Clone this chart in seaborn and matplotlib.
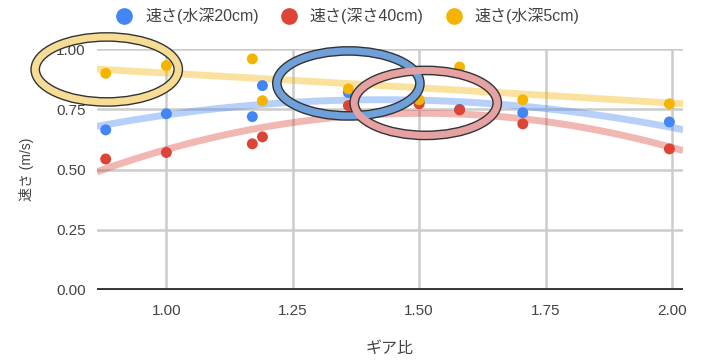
import numpy as np
import pandas as pd
import matplotlib
matplotlib.use("Agg")
import matplotlib.pyplot as plt
from matplotlib.patches import Ellipse
from matplotlib.lines import Line2D
import seaborn as sns

# ---- data ----
gear_ratio = [0.88, 1.00, 1.17, 1.19, 1.36, 1.50, 1.58, 1.705, 1.995]
speed_20cm = [0.665, 0.732, 0.72, 0.849, 0.82, 0.78, 0.75, 0.736, 0.698]
speed_40cm = [0.544, 0.571, 0.607, 0.636, 0.766, 0.773, 0.748, 0.69, 0.586]
speed_5cm = [0.90, 0.932, 0.96, 0.786, 0.835, 0.79, 0.926, 0.79, 0.773]

series_labels = ["速さ(水深20cm)", "速さ(深さ40cm)", "速さ(水深5cm)"]
series_colors = ["#4285F4", "#DB4437", "#F4B400"]
ring_colors = ["#F6DC94", "#6FA0DA", "#E6A2A2"]

x_ticks = [1.00, 1.25, 1.50, 1.75, 2.00]
y_ticks = [0.00, 0.25, 0.50, 0.75, 1.00]
x_label = "ギア比"
y_label = "速さ (m/s)"

# annotation ellipses (center x, center y, width, height) in data units
ellipse_cx = [0.882, 1.36, 1.513]
ellipse_cy = [0.916, 0.858, 0.777]
ellipse_w = [0.283, 0.283, 0.283]
ellipse_h = [0.27, 0.27, 0.27]

sns.set_theme(style="white")
plt.rcParams["font.family"] = ["Liberation Sans", "Noto Sans CJK JP", "DejaVu Sans"]

fig = plt.figure(figsize=(7.02, 3.62), dpi=100)
ax = fig.add_axes([0.138, 0.199, 0.835, 0.665])
ax.set_xlim(0.8625, 2.022)
ax.set_ylim(0.0, 1.0)

for ys, col, lab in zip([speed_20cm, speed_40cm, speed_5cm], series_colors, series_labels):
    df = pd.DataFrame({"x": gear_ratio, "y": ys})
    sns.regplot(data=df, x="x", y="y", order=2, ci=None, scatter=False,
                truncate=False, ax=ax,
                line_kws=dict(color=col, lw=5, alpha=0.38, solid_capstyle="butt", zorder=2))

for ys, col, lab in zip([speed_20cm, speed_40cm, speed_5cm], series_colors, series_labels):
    sns.scatterplot(x=gear_ratio, y=ys, color=col, s=62, edgecolor="none",
                    ax=ax, zorder=3, legend=False)

ax.set_xlim(0.8625, 2.022)
ax.set_ylim(0.0, 1.0)

# grid
ax.set_xticks(x_ticks)
ax.set_yticks(y_ticks)
ax.set_xticklabels([f"{v:.2f}" for v in x_ticks])
ax.set_yticklabels([f"{v:.2f}" for v in y_ticks])
ax.grid(True, color="#cccccc", lw=1.8, zorder=0)
ax.set_axisbelow(True)
for s in ax.spines.values():
    s.set_visible(False)
ax.axhline(0, color="#333333", lw=2.8, zorder=1)
ax.tick_params(axis="both", length=0, labelsize=11, colors="#444444")
ax.tick_params(axis="x", pad=10)
ax.tick_params(axis="y", pad=8)
ax.set_xlabel(x_label, fontsize=11.5, color="#444444", labelpad=17)
ax.set_ylabel(y_label, fontsize=10, color="#444444", labelpad=16)

# annotation rings
for cx, cy, w, h, rc in zip(ellipse_cx, ellipse_cy, ellipse_w, ellipse_h, ring_colors):
    ax.add_patch(Ellipse((cx, cy), w, h, fill=False, edgecolor="#333333", lw=7,
                         zorder=5, clip_on=False))
    ax.add_patch(Ellipse((cx, cy), w, h, fill=False, edgecolor=rc, lw=5,
                         zorder=6, clip_on=False))

handles = [Line2D([], [], marker="o", ls="none", color=c, markersize=11) for c in series_colors]
fig.legend(handles, series_labels, loc="center", bbox_to_anchor=(0.49, 0.956), ncol=3,
           frameon=False, fontsize=11.5, handletextpad=0.3, columnspacing=0.9,
           labelcolor="#444444")

fig.savefig("out.png", dpi=100)
